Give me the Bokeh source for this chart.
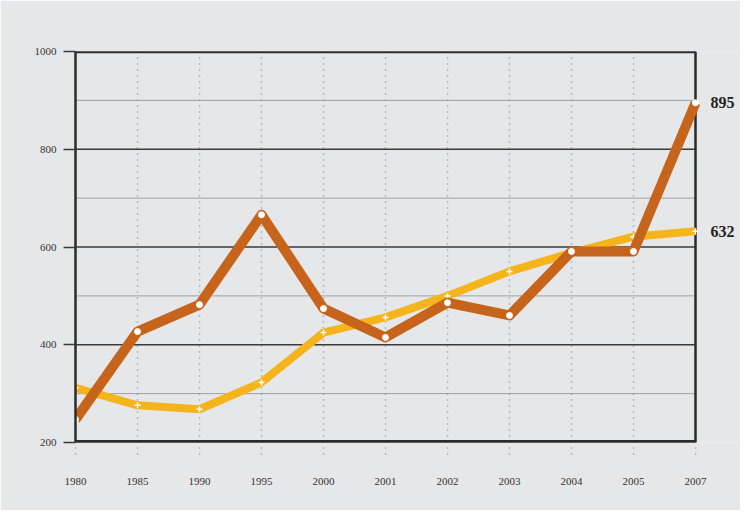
from bokeh.plotting import figure
from bokeh.models import Range1d, FixedTicker, Label
from bokeh.embed import file_html
from bokeh.resources import INLINE

years = ["1980", "1985", "1990", "1995", "2000", "2001", "2002", "2003", "2004", "2005", "2007"]
series_brown = [247, 427, 482, 666, 474, 415, 486, 460, 591, 591, 895]
series_yellow = [312, 276, 268, 323, 425, 456, 500, 550, 588, 621, 632]
y_ticks = [200, 400, 600, 800, 1000]
y_minor = [300, 500, 700, 900]

idx = list(range(len(years)))
BG = "#e6e7e9"
DARK = "#2b2b2b"

W, H = 740, 510
left, top, bottom = 75, 51, 68
plot_w = 620  # width from first to last category
x_end = (len(years) - 1) * (W - left) / plot_w
y0, y1 = y_ticks[0], y_ticks[-1]
x0, x1 = idx[0], idx[-1]

p = figure(width=W, height=H, output_backend="svg", toolbar_location=None,
           x_range=Range1d(0, x_end), y_range=Range1d(y0, y1),
           min_border_left=left, min_border_right=0, min_border_top=top, min_border_bottom=bottom)
p.background_fill_color = BG
p.border_fill_color = BG
p.outline_line_color = None
p.ygrid.grid_line_color = None
p.xgrid.grid_line_color = None

# axes
p.xaxis.ticker = FixedTicker(ticks=idx)
p.xaxis.major_label_overrides = {i: y for i, y in enumerate(years)}
p.yaxis.ticker = FixedTicker(ticks=y_ticks, minor_ticks=y_minor)
for ax in (p.xaxis, p.yaxis):
    ax.major_label_text_font = "Liberation Serif"
    ax.major_label_text_font_size = "11px"
    ax.major_label_text_color = "#333333"
    ax.minor_tick_line_color = None
    ax.major_tick_in = 0
    ax.major_tick_out = 12
p.yaxis.axis_line_color = DARK
p.yaxis.axis_line_width = 2.5
p.yaxis.major_tick_line_color = "#3a3a3a"
p.yaxis.major_tick_line_width = 1.5
p.yaxis.major_label_standoff = 7
p.xaxis.axis_line_color = None
p.xaxis.major_tick_line_color = "#8a8a8a"
p.xaxis.major_tick_line_dash = "1 5"
p.xaxis.major_tick_line_width = 1.5
p.xaxis.major_label_standoff = 23

# grid (drawn as segments so it stops at the last category)
p.segment(x0=[x0] * len(y_minor), x1=[x1] * len(y_minor), y0=y_minor, y1=y_minor,
          line_color="#a0a0a0", line_width=1)
p.segment(x0=idx, x1=idx, y0=[y0] * len(idx), y1=[y1] * len(idx),
          line_color="#8a8a8a", line_width=1.5, line_dash="1 5")
p.segment(x0=[x0] * len(y_ticks), x1=[x1] * len(y_ticks), y0=y_ticks, y1=y_ticks,
          line_color="#3a3a3a", line_width=1.5)
# frame
p.segment(x0=[x0], x1=[x1], y0=[y0], y1=[y0], line_color=DARK, line_width=5)
p.segment(x0=[x0], x1=[x1], y0=[y1], y1=[y1], line_color=DARK, line_width=3.5)
p.segment(x0=[x1], x1=[x1], y0=[y0], y1=[y1], line_color=DARK, line_width=2.5)

# lines
p.line(idx, series_yellow, line_color="#f6b41c", line_width=8, line_join="round")
p.scatter(idx, series_yellow, marker="cross", size=6, line_color="white", line_width=1.5)
p.line(idx, series_brown, line_color="#c6641b", line_width=10, line_join="round")
p.scatter(idx, series_brown, marker="circle", size=6, fill_color="white", line_color="white")

for s in (series_brown, series_yellow):
    p.add_layout(Label(x=idx[-1], y=s[-1], text=str(s[-1]), x_offset=15,
                       text_baseline="middle", text_font="Liberation Serif",
                       text_font_size="16px", text_font_style="bold", text_color="#222222"))

open("out.html", "w").write(file_html(p, INLINE))
